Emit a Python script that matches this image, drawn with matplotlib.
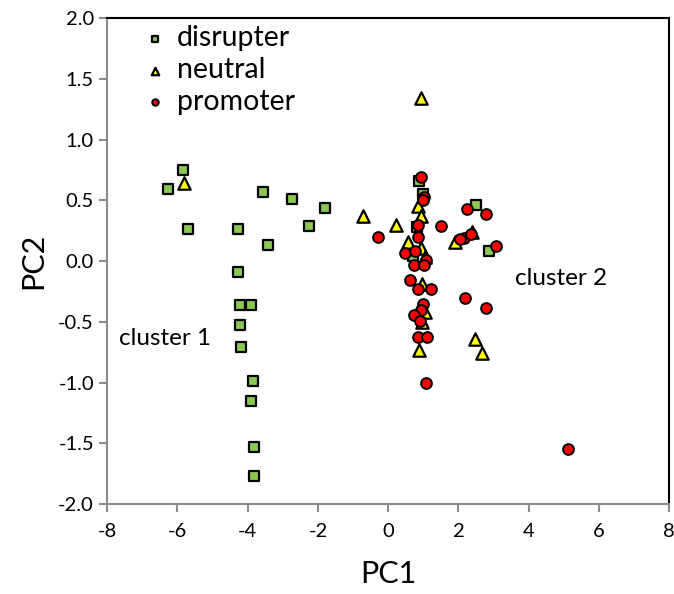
import numpy as np
import matplotlib
matplotlib.use("Agg")
import matplotlib.pyplot as plt

plt.rcParams['font.family'] = ['Lato', 'DejaVu Sans']
plt.rcParams['axes.unicode_minus'] = False

# PCA scores
disrupter_x = [-5.83, -6.28, -3.57, -2.74, -1.79, -5.69, -4.27, -2.26, -3.43, -4.27,
               -4.22, -3.90, -4.21, -4.19, -3.84, -3.91, -3.82, -3.82,
               0.87, 0.99, 0.82, 2.50, 2.86, 0.70]
disrupter_y = [0.75, 0.59, 0.57, 0.51, 0.44, 0.26, 0.26, 0.29, 0.13, -0.09,
               -0.36, -0.36, -0.53, -0.71, -0.99, -1.15, -1.53, -1.77,
               0.66, 0.55, 0.28, 0.46, 0.08, 0.04]

neutral_x = [-5.81, -0.72, 0.92, 0.84, 0.93, 0.23, 0.56, 1.91, 2.38, 0.94,
             1.05, 0.96, 1.05, 0.96, 0.88, 2.48, 2.67]
neutral_y = [0.64, 0.375, 1.34, 0.45, 0.375, 0.30, 0.16, 0.16, 0.24, 0.11,
             0.03, -0.19, -0.42, -0.50, -0.73, -0.64, -0.76]

promoter_x = [0.94, 1.03, 0.99, 0.86, 1.50, -0.28, 0.86, 2.24, 2.78, 2.15,
              2.05, 2.36, 3.06, 0.48, 0.77, 1.08, 0.72, 1.01, 0.63, 0.86,
              1.22, 2.19, 2.78, 0.99, 0.93, 0.72, 0.91, 0.86, 1.10, 1.08, 5.13]
promoter_y = [0.69, 0.53, 0.50, 0.30, 0.29, 0.20, 0.20, 0.43, 0.39, 0.19,
              0.18, 0.22, 0.12, 0.07, 0.08, 0.01, -0.03, -0.03, -0.16, -0.23,
              -0.23, -0.30, -0.39, -0.35, -0.40, -0.44, -0.49, -0.625, -0.625, -1.0, -1.55]

fig = plt.figure(figsize=(6.74, 5.94), dpi=100)
ax = fig.add_axes([0.159, 0.1515, 0.834, 0.818])

ax.scatter(disrupter_x, disrupter_y, marker="s", s=60, c="#8cc751",
           edgecolors="black", linewidths=1.6, zorder=3, label="disrupter")
ax.scatter(neutral_x, neutral_y, marker="^", s=80, c="#ffff00",
           edgecolors="black", linewidths=1.6, zorder=4, label="neutral")
ax.scatter(promoter_x, promoter_y, marker="o", s=60, c="#ff0000",
           edgecolors="black", linewidths=1.4, zorder=5, label="promoter")

ax.set_xlim(-8, 8)
ax.set_ylim(-2, 2)
ax.set_xticks(np.arange(-8, 9, 2))
ax.set_yticks(np.arange(-2, 2.01, 0.5))
ax.set_yticklabels(["%.1f" % v for v in np.arange(-2, 2.01, 0.5)])

for side in ["left", "bottom"]:
    ax.spines[side].set_color("#8c8c8c")
    ax.spines[side].set_linewidth(1.5)
for side in ["top", "right"]:
    ax.spines[side].set_color("black")
    ax.spines[side].set_linewidth(1.5)
ax.tick_params(axis="both", colors="#8c8c8c", width=1.5, length=6,
               labelsize=14.5, labelcolor="black", direction="out")
ax.tick_params(axis="x", pad=8)

ax.set_xlabel("PC1", fontsize=22, labelpad=14)
ax.set_ylabel("PC2", fontsize=22, labelpad=8)

ax.text(-7.65, -0.64, "cluster 1", fontsize=17.5, va="center", ha="left")
ax.text(3.62, -0.14, "cluster 2", fontsize=17.5, va="center", ha="left")

leg = ax.legend(loc="upper left", bbox_to_anchor=(0.03, 1.02), frameon=False,
                fontsize=20.5, markerscale=0.6, handlelength=1.0, handletextpad=0.25,
                labelspacing=0.2, borderaxespad=0.2)

fig.savefig("out.png", dpi=100)
